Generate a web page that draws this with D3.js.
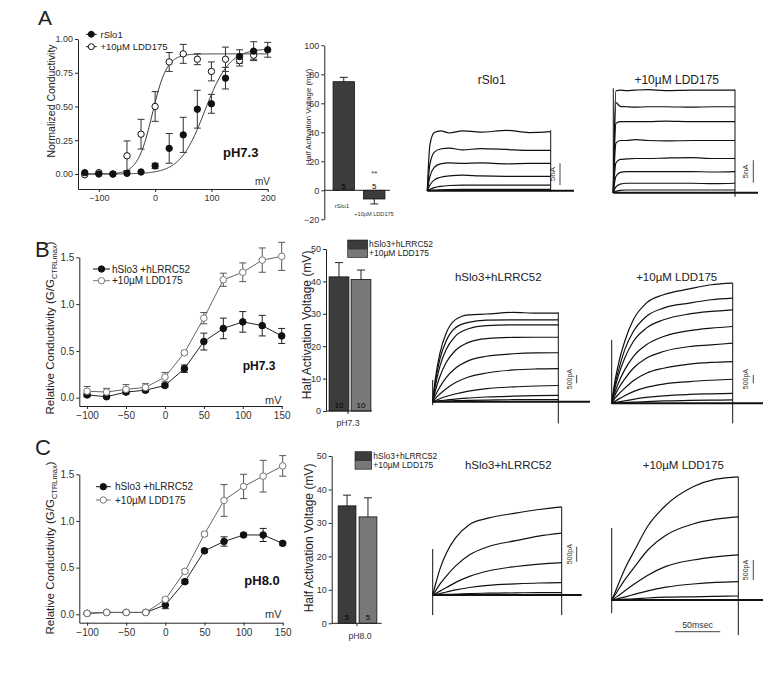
<!DOCTYPE html>
<meta charset="utf-8">
<style>
body { margin: 0; background: #fff; }
svg { font-family: "Liberation Sans", Arial, sans-serif; }
</style>
<svg width="773" height="678"></svg>
<script src="https://d3js.org/d3.v7.min.js"></script>
<script>
var FONT = "'Liberation Sans', Arial, sans-serif";

// ---------- panel A : G-V of rSlo1 ----------
var voltA = [-125, -100, -75, -50, -25, 0, 25, 50, 75, 100, 125, 150, 175, 200];
var gSlo1 = [0.01, 0.0, 0.0, 0.005, 0.015, 0.06, 0.19, 0.29, 0.48, 0.52, 0.71, 0.87, 0.91, 0.92];
var gSlo1Err = [0, 0, 0, 0, 0, 0.02, 0.11, 0.13, 0.14, 0.07, 0.08, 0.05, 0.07, 0.055];
var voltALdd = [-125, -100, -75, -50, -25, 0, 25, 50, 75, 100, 125, 150, 175];
var gSlo1Ldd = [-0.005, 0.01, 0.0, 0.135, 0.295, 0.50, 0.83, 0.89, 0.85, 0.76, 0.85, 0.84, 0.88];
var gSlo1LddErr = [0, 0, 0, 0.11, 0.11, 0.11, 0.07, 0.07, 0.04, 0.07, 0.09, 0.04, 0.03];
// Boltzmann fits: [V1/2, slope, Gmax]
var fitSlo1 = [88, 22, 0.93];
var fitSlo1Ldd = [-5, 13, 0.89];

// ---------- panels B and C : hSlo3 + hLRRC52 ----------
var voltBC = [-100, -75, -50, -25, 0, 25, 50, 75, 100, 125, 150];
var gB = [0.03, 0.01, 0.06, 0.08, 0.13, 0.31, 0.60, 0.74, 0.81, 0.77, 0.66];
var gBErr = [0.02, 0.01, 0.02, 0.02, 0.02, 0.04, 0.09, 0.11, 0.11, 0.11, 0.08];
var gBLdd = [0.07, 0.06, 0.09, 0.11, 0.22, 0.48, 0.85, 1.26, 1.34, 1.47, 1.51];
var gBLddErr = [0.05, 0.04, 0.05, 0.04, 0.05, 0.02, 0.06, 0.07, 0.10, 0.13, 0.15];
var gC = [0.01, 0.02, 0.02, 0.02, 0.10, 0.35, 0.68, 0.78, 0.85, 0.85, 0.76];
var gCErr = [0.01, 0.01, 0.01, 0.01, 0.04, 0.02, 0.02, 0.05, 0.02, 0.07, 0.02];
var gCLdd = [0.01, 0.02, 0.02, 0.02, 0.16, 0.46, 0.86, 1.22, 1.37, 1.48, 1.59];
var gCLddErr = [0.01, 0.01, 0.01, 0.01, 0.02, 0.02, 0.02, 0.17, 0.13, 0.17, 0.11];

// ---------- half activation bars ----------
var barLabelsA = ["rSlo1", "+10\u00b5M LDD175"];
var halfA = [74.9, -6.0], halfAErr = [3.0, 3.4], nA = ["5", "5"];
var barLabelsBC = ["hSlo3+hLRRC52", "+10\u00b5M LDD175"];
var halfB = [41.4, 40.6], halfBErr = [4.4, 2.9], nB = ["10", "10"];
var halfC = [35.1, 31.8], halfCErr = [3.2, 5.7], nC = ["5", "5"];

// ---------- current traces (nA) sampled at traceTimes (ms) ----------
var traceTimes = [0, 3, 8, 15, 25, 40, 60, 90, 115, 140];
var tracesA = [
  [0, 10.6, 13.4, 13.8, 13.3, 13.8, 13.5, 13.9, 13.4, 13.6],
  [0, 6.1, 8.9, 9.6, 9.8, 9.4, 9.7, 9.5, 9.3, 9.3],
  [0, 3.3, 5.4, 6.2, 6.4, 6.3, 6.4, 6.2, 6.3, 6.3],
  [0, 1.3, 2.5, 3.1, 3.4, 3.6, 3.4, 3.3, 3.3, 3.3],
  [0, 0.3, 0.7, 1.0, 1.2, 1.3, 1.3, 1.3, 1.3, 1.3],
  [0, 0.05, 0.15, 0.22, 0.27, 0.3, 0.3, 0.3, 0.3, 0.3]
];
var tracesALdd = [
  [0, 22.6, 22.8, 22.7, 22.8, 22.9, 22.7, 22.8, 22.8, 22.8],
  [0, 20.0, 19.2, 19.1, 19.0, 19.1, 19.1, 19.0, 19.1, 19.1],
  [0, 15.4, 15.8, 15.8, 15.8, 15.8, 15.9, 15.8, 15.8, 15.8],
  [0, 11.0, 11.6, 11.6, 11.8, 11.6, 11.5, 11.6, 11.6, 11.6],
  [0, 6.6, 7.4, 7.5, 7.6, 7.6, 7.7, 7.8, 7.6, 7.6],
  [0, 3.6, 4.5, 4.7, 4.7, 4.7, 4.7, 4.7, 4.6, 4.7],
  [0, 1.3, 1.9, 2.1, 2.1, 2.1, 2.1, 2.1, 2.0, 2.1],
  [0, 0.3, 0.5, 0.6, 0.6, 0.6, 0.6, 0.6, 0.6, 0.6]
];
var tracesB = [
  [0, 1.4, 2.9, 4.1, 4.9, 5.2, 5.25, 5.35, 5.3, 5.3],
  [0, 1.18, 2.55, 3.63, 4.41, 4.75, 4.88, 4.9, 4.9, 4.9],
  [0, 0.97, 2.12, 3.13, 3.91, 4.37, 4.55, 4.6, 4.6, 4.6],
  [0, 0.66, 1.51, 2.35, 3.05, 3.55, 3.78, 3.85, 3.86, 3.86],
  [0, 0.38, 0.88, 1.44, 1.99, 2.46, 2.72, 2.87, 2.92, 2.93],
  [0, 0.2, 0.46, 0.78, 1.14, 1.48, 1.72, 1.9, 1.96, 1.98],
  [0, 0.07, 0.18, 0.31, 0.46, 0.63, 0.78, 0.89, 0.94, 0.97],
  [0, 0.02, 0.06, 0.1, 0.16, 0.22, 0.28, 0.33, 0.36, 0.38],
  [0, 0.01, 0.02, 0.04, 0.06, 0.08, 0.1, 0.12, 0.13, 0.13]
];
var tracesBLdd = [
  [0, 1.1, 2.4, 3.7, 5.0, 6.0, 6.5, 6.85, 7.1, 7.2],
  [0, 0.9, 2.0, 3.2, 4.3, 5.2, 5.7, 6.0, 6.2, 6.3],
  [0, 0.75, 1.7, 2.7, 3.7, 4.5, 5.0, 5.35, 5.5, 5.6],
  [0, 0.55, 1.25, 2.0, 2.8, 3.5, 4.0, 4.35, 4.5, 4.6],
  [0, 0.4, 0.9, 1.45, 2.1, 2.7, 3.1, 3.4, 3.5, 3.6],
  [0, 0.25, 0.55, 0.9, 1.35, 1.8, 2.1, 2.35, 2.45, 2.5],
  [0, 0.1, 0.25, 0.45, 0.7, 0.95, 1.15, 1.3, 1.38, 1.44],
  [0, 0.03, 0.08, 0.15, 0.24, 0.35, 0.45, 0.53, 0.57, 0.6],
  [0, 0.01, 0.02, 0.04, 0.07, 0.1, 0.14, 0.17, 0.19, 0.2]
];
var tracesC = [
  [0, 0.35, 0.88, 1.41, 1.91, 2.35, 2.56, 2.73, 2.85, 2.94],
  [0, 0.14, 0.37, 0.64, 0.97, 1.34, 1.61, 1.81, 1.96, 2.06],
  [0, 0.05, 0.13, 0.25, 0.42, 0.62, 0.8, 0.95, 1.03, 1.08],
  [0, 0.02, 0.05, 0.1, 0.17, 0.25, 0.32, 0.37, 0.4, 0.41],
  [0, 0.005, 0.01, 0.02, 0.03, 0.05, 0.06, 0.07, 0.08, 0.08]
];
var tracesCLdd = [
  [0, 0.15, 0.43, 0.8, 1.23, 1.85, 2.37, 2.83, 3.02, 3.08],
  [0, 0.1, 0.28, 0.52, 0.82, 1.25, 1.62, 1.9, 2.02, 2.08],
  [0, 0.04, 0.12, 0.24, 0.4, 0.62, 0.84, 1.0, 1.08, 1.13],
  [0, 0.01, 0.04, 0.08, 0.14, 0.23, 0.32, 0.4, 0.44, 0.46],
  [0, 0, 0.01, 0.02, 0.03, 0.05, 0.07, 0.08, 0.09, 0.1]
];
// capacitive spikes [start low, start high, end low] in nA
var spikeA = [0, 0, -0.3], spikeALdd = [-0.1, 23.2, -0.9];
var spikeB = [-0.2, 1.3, -1.3], spikeBLdd = [0, 3.8, -1.2];
var spikeC = [-0.67, 1.53, -0.67], spikeCLdd = [-0.33, 1.8, -0.88];

var svg = d3.select("svg");

function txt(x, y, s, size, opts) {
  opts = opts || {};
  return svg.append("text").attr("x", x).attr("y", y)
    .attr("font-size", size).attr("font-family", FONT)
    .attr("font-weight", opts.bold ? "bold" : null)
    .attr("text-anchor", opts.anchor || "start")
    .attr("fill", opts.fill || "#222").text(s);
}

function vtxt(cx, cy, s, size) {
  return svg.append("text").attr("transform", "translate(" + cx + "," + cy + ") rotate(-90)")
    .attr("text-anchor", "middle").attr("dy", "0.35em")
    .attr("font-size", size).attr("font-family", FONT).attr("fill", "#222").text(s);
}

function styleAxis(a, fs) {
  a.attr("font-size", fs).attr("font-family", FONT).attr("color", "#222");
  a.selectAll(".tick text").attr("fill", "#333");
}

function axisLeft(y, x0, ticks, fmt, fs) {
  var a = svg.append("g").attr("transform", "translate(" + x0 + ",0)")
    .call(d3.axisLeft(y).tickValues(ticks).tickFormat(fmt).tickSize(3).tickSizeOuter(0).tickPadding(2));
  styleAxis(a, fs);
  return a;
}

function axisBottom(x, y0, ticks, fs) {
  var a = svg.append("g").attr("transform", "translate(0," + y0 + ")")
    .call(d3.axisBottom(x).tickValues(ticks).tickFormat(d3.format("d")).tickSize(3).tickSizeOuter(0).tickPadding(3));
  styleAxis(a, fs);
  return a;
}

function errBars(x, y, volts, vals, errs, color, cap) {
  volts.forEach(function(v, i) {
    if (!errs[i]) return;
    var g = svg.append("g").attr("stroke", color).attr("stroke-width", 1);
    g.append("line").attr("x1", x(v)).attr("x2", x(v)).attr("y1", y(vals[i] - errs[i])).attr("y2", y(vals[i] + errs[i]));
    [vals[i] - errs[i], vals[i] + errs[i]].forEach(function(e) {
      g.append("line").attr("x1", x(v) - cap).attr("x2", x(v) + cap).attr("y1", y(e)).attr("y2", y(e));
    });
  });
}

function markers(x, y, volts, vals, r, fill, stroke) {
  svg.append("g").selectAll("circle").data(volts).join("circle")
    .attr("cx", function(d) { return x(d); })
    .attr("cy", function(d, i) { return y(vals[i]); })
    .attr("r", r).attr("fill", fill).attr("stroke", stroke).attr("stroke-width", 1);
}

function connect(x, y, volts, vals, color) {
  svg.append("path").datum(volts.map(function(v, i) { return [v, vals[i]]; }))
    .attr("d", d3.line().x(function(d) { return x(d[0]); }).y(function(d) { return y(d[1]); }))
    .attr("fill", "none").attr("stroke", color).attr("stroke-width", 1);
}

function legendRow(x1, x2, cx, cy, fill, stroke, r, label, tx, fs) {
  svg.append("line").attr("x1", x1).attr("x2", x2).attr("y1", cy).attr("y2", cy)
    .attr("stroke", stroke).attr("stroke-width", 1);
  svg.append("circle").attr("cx", cx).attr("cy", cy).attr("r", r)
    .attr("fill", fill).attr("stroke", stroke);
  txt(tx, cy, label, fs).attr("dy", "0.35em");
}

// ================= Panel A : G-V =================
txt(38, 25, "A", 21);
var xA = d3.scaleLinear().domain([-137, 200]).range([78, 267.7]);
var yA = d3.scaleLinear().domain([-0.111, 1]).range([189, 39]);
axisLeft(yA, 78, [0, 0.25, 0.5, 0.75, 1], d3.format(".2f"), 9);
axisBottom(xA, 189, [-100, 0, 100, 200], 9);
vtxt(51, 101, "Normalized Conductivity", 10.5);

[fitSlo1, fitSlo1Ldd].forEach(function(p) {
  var pts = d3.range(-130, 200.5, 1).map(function(v) {
    return [v, p[2] / (1 + Math.exp((p[0] - v) / p[1]))];
  });
  svg.append("path").datum(pts)
    .attr("d", d3.line().x(function(d) { return xA(d[0]); }).y(function(d) { return yA(d[1]); }))
    .attr("fill", "none").attr("stroke", "#333").attr("stroke-width", 1);
});
errBars(xA, yA, voltA, gSlo1, gSlo1Err, "#333", 3.5);
errBars(xA, yA, voltALdd, gSlo1Ldd, gSlo1LddErr, "#333", 3.5);
markers(xA, yA, voltALdd, gSlo1Ldd, 3.2, "#fff", "#111");
markers(xA, yA, voltA, gSlo1, 3.2, "#111", "#111");
legendRow(86, 96.7, 91.3, 34.3, "#111", "#111", 3, "rSlo1", 100.5, 9.5);
legendRow(86, 96.7, 91.3, 46.7, "#fff", "#111", 3, "+10\u00b5M LDD175", 100.5, 9.5);
txt(223, 156.5, "pH7.3", 13, {bold: true, fill: "#111"});
txt(255, 185, "mV", 10, {fill: "#333"});

// ================= Panels B and C : G-V =================
function gvPanel(o) {
  txt(o.letterX, o.letterY, o.letter, 22);
  var x = d3.scaleLinear().domain([-110, 150]).range([79.3, o.xEnd]);
  var y = d3.scaleLinear().domain([o.yMin, 1.5]).range([o.axisY, o.top]);
  axisLeft(y, 79.3, [0, 0.5, 1, 1.5], d3.format(".1f"), 10);
  axisBottom(x, o.axisY, [-100, -50, 0, 50, 100, 150], 10);
  var lab = svg.append("text").attr("transform", "translate(50," + o.labelY + ") rotate(-90)")
    .attr("text-anchor", "middle").attr("dy", "0.35em")
    .attr("font-size", 11.5).attr("font-family", FONT).attr("fill", "#222");
  lab.append("tspan").text("Relative Conductivity (G/G");
  lab.append("tspan").attr("font-size", 7.5).attr("dy", 3).text("CTRLmax");
  lab.append("tspan").attr("dy", -3).text(")");

  connect(x, y, voltBC, o.ctrl, "#222");
  connect(x, y, voltBC, o.ldd, "#666");
  errBars(x, y, voltBC, o.ctrl, o.ctrlErr, "#222", 3.5);
  errBars(x, y, voltBC, o.ldd, o.lddErr, "#555", 3.5);
  markers(x, y, voltBC, o.ctrl, 3.3, "#111", "#111");
  markers(x, y, voltBC, o.ldd, 3.3, "#fff", "#777");

  legendRow(o.legX1, o.legX2, o.legCx, o.legY1, "#111", "#111", 3.2, "hSlo3 +hLRRC52", o.legTx, 10);
  legendRow(o.legX1, o.legX2, o.legCx, o.legY2, "#fff", "#777", 3.2, "+10\u00b5M LDD175", o.legTx, 10);
  txt(o.phX, o.phY, o.ph, o.phSize, {bold: true, fill: "#111"});
  txt(265, o.mvY, "mV", 11, {fill: "#333"});
}

gvPanel({letter: "B", letterX: 35, letterY: 257, xEnd: 281.7, yMin: -0.0887, axisY: 406, top: 257.3,
  labelY: 328, ctrl: gB, ctrlErr: gBErr, ldd: gBLdd, lddErr: gBLddErr,
  legX1: 93, legX2: 110, legCx: 101.5, legY1: 269, legY2: 280.7, legTx: 112,
  ph: "pH7.3", phX: 242.7, phY: 370, phSize: 12, mvY: 404});
gvPanel({letter: "C", letterX: 35, letterY: 455, xEnd: 282.7, yMin: -0.09, axisY: 622.7, top: 474.3,
  labelY: 548, ctrl: gC, ctrlErr: gCErr, ldd: gCLdd, lddErr: gCLddErr,
  legX1: 96, legX2: 110.7, legCx: 103.3, legY1: 486.7, legY2: 500, legTx: 115,
  ph: "pH8.0", phX: 244.3, phY: 585, phSize: 13, mvY: 618});

// ================= Half activation bar charts =================
function barPanel(o) {
  var y = d3.scaleLinear().domain(o.domain).range(o.range);
  var x = d3.scaleBand().domain(o.keys).range(o.band).paddingInner(o.padIn).paddingOuter(o.padOut);
  axisLeft(y, o.axisX, o.ticks, d3.format("d"), 9);
  vtxt(o.labelX, o.labelCy, "Half Activation Voltage (mV)", o.labelSize);

  var g = svg.append("g");
  o.keys.forEach(function(k, i) {
    var v = o.vals[i], e = o.errs[i];
    var cx = x(k) + x.bandwidth() / 2;
    var tip = v >= 0 ? v + e : v - e;
    g.append("line").attr("x1", cx).attr("x2", cx).attr("y1", y(v)).attr("y2", y(tip))
      .attr("stroke", "#222").attr("stroke-width", 1);
    g.append("line").attr("x1", cx - 4).attr("x2", cx + 4).attr("y1", y(tip)).attr("y2", y(tip))
      .attr("stroke", "#222").attr("stroke-width", 1);
    g.append("rect").attr("x", x(k)).attr("width", x.bandwidth())
      .attr("y", y(Math.max(0, v))).attr("height", Math.abs(y(v) - y(0)))
      .attr("fill", o.colors[i]).attr("stroke", "#111").attr("stroke-width", 0.8);
    txt(cx, o.nY, o.n[i], 8, {anchor: "middle", fill: "#000"});
  });
  svg.append("line").attr("x1", o.axisX).attr("x2", o.xEnd).attr("y1", y(0)).attr("y2", y(0))
    .attr("stroke", "#222").attr("stroke-width", 1);
  return {x: x, y: y};
}

var bA = barPanel({domain: [-20, 100], range: [219.3, 45.3], keys: barLabelsA, band: [330, 388],
  padIn: 0.3, padOut: 0.1, axisX: 324.3, xEnd: 390, ticks: [-20, 0, 20, 40, 60, 80, 100],
  labelX: 308, labelCy: 117, labelSize: 7.8, vals: halfA, errs: halfAErr, n: nA,
  colors: ["#3c3c3c", "#3c3c3c"], nY: 188.5});
txt(342, 208, barLabelsA[0], 6.2, {anchor: "middle", fill: "#333"});
txt(374, 215.5, barLabelsA[1], 5.6, {anchor: "middle", fill: "#333"});
txt(bA.x(barLabelsA[1]) + bA.x.bandwidth() / 2, 176, "**", 8, {anchor: "middle", fill: "#333"});

function barLegend(x, y1, y2, w, h, tx, fs) {
  [["#3c3c3c", y1, barLabelsBC[0]], ["#787878", y2, barLabelsBC[1]]].forEach(function(r) {
    svg.append("rect").attr("x", x).attr("y", r[1]).attr("width", w).attr("height", h)
      .attr("fill", r[0]).attr("stroke", "#111").attr("stroke-width", 0.6);
    txt(tx, r[1] + h / 2, r[2], fs).attr("dy", "0.35em");
  });
}

var bB = barPanel({domain: [0, 50], range: [411, 249], keys: barLabelsBC, band: [328, 372],
  padIn: 0.1, padOut: 0.05, axisX: 326, xEnd: 372, ticks: [0, 10, 20, 30, 40, 50],
  labelX: 306.7, labelCy: 325, labelSize: 12, vals: halfB, errs: halfBErr, n: nB,
  colors: ["#3c3c3c", "#787878"], nY: 407.5});
svg.append("line").attr("x1", 348).attr("x2", 348).attr("y1", 411).attr("y2", 414).attr("stroke", "#222");
txt(348, 426, "pH7.3", 8.7, {anchor: "middle", fill: "#333"});
barLegend(347.7, 240, 249, 20, 8.5, 369, 8.5);

var bC = barPanel({domain: [0, 50], range: [623.3, 456], keys: barLabelsBC, band: [335, 380],
  padIn: 0.15, padOut: 0.15, axisX: 331.7, xEnd: 381.7, ticks: [0, 10, 20, 30, 40, 50],
  labelX: 309, labelCy: 538, labelSize: 12, vals: halfC, errs: halfCErr, n: nC,
  colors: ["#3c3c3c", "#787878"], nY: 620});
svg.append("line").attr("x1", 357).attr("x2", 357).attr("y1", 623.3).attr("y2", 626.3).attr("stroke", "#222");
txt(360, 639, "pH8.0", 8.7, {anchor: "middle", fill: "#333"});
barLegend(355, 451.7, 460.7, 16.7, 8.5, 373.3, 8.5);

// ================= Current traces =================
function tracePanel(o, traces, spike) {
  var x = d3.scaleLinear().domain([0, 140]).range([o.x0, o.x1]);
  var y = d3.scaleLinear().domain([0, 1]).range([o.base, o.base - o.px]);
  var g = svg.append("g").attr("fill", "none").attr("stroke", "#111");
  var line = d3.line().x(function(d, i) { return x(traceTimes[i]); }).y(function(d) { return y(d); })
    .curve(d3.curveMonotoneX);
  g.selectAll("path").data(traces).join("path").attr("d", line).attr("stroke-width", 1.2);
  var top = d3.max(traces, function(t) { return d3.max(t); });
  g.append("line").attr("x1", o.x0).attr("x2", o.tail).attr("y1", y(0)).attr("y2", y(0)).attr("stroke-width", 2);
  g.append("line").attr("x1", o.x0).attr("x2", o.x0).attr("y1", y(spike[0])).attr("y2", y(spike[1])).attr("stroke-width", 1);
  g.append("line").attr("x1", o.x1).attr("x2", o.x1).attr("y1", y(top)).attr("y2", y(spike[2])).attr("stroke-width", 1);
  // amplitude scale bar
  svg.append("line").attr("x1", o.barX).attr("x2", o.barX).attr("y1", o.barY).attr("y2", y(o.amp) - o.base + o.barY)
    .attr("stroke", "#444").attr("stroke-width", 1);
  svg.append("text").attr("transform", "translate(" + (o.barX - 5) + "," + (o.barY - o.amp * o.px / 2) + ") rotate(-90)")
    .attr("text-anchor", "middle").attr("font-size", o.barFs).attr("font-family", FONT).attr("fill", "#333")
    .text(o.barLabel);
  txt(o.tx, o.ty, o.title, o.tfs, {anchor: "middle"});
  return x;
}

tracePanel({x0: 427.3, x1: 550.7, base: 190.7, px: 4.34, tail: 574, amp: 5, barX: 560, barY: 185,
  barLabel: "5nA", barFs: 8, title: "rSlo1", tx: 491.7, ty: 84, tfs: 12}, tracesA, spikeA);
tracePanel({x0: 613.3, x1: 735, base: 192.7, px: 4.5, tail: 758, amp: 5, barX: 753.3, barY: 182.7,
  barLabel: "5nA", barFs: 8, title: "+10\u00b5M LDD175", tx: 676.7, ty: 84, tfs: 12}, tracesALdd, spikeALdd);
tracePanel({x0: 432.7, x1: 558.3, base: 401.7, px: 16.7, tail: 590, amp: 0.5, barX: 576.7, barY: 383.3,
  barLabel: "500pA", barFs: 7, title: "hSlo3+hLRRC52", tx: 498.3, ty: 280.5, tfs: 11.5}, tracesB, spikeB);
tracePanel({x0: 611.7, x1: 732.7, base: 403.3, px: 16.7, tail: 763, amp: 0.5, barX: 753.3, barY: 383.3,
  barLabel: "500pA", barFs: 7, title: "+10\u00b5M LDD175", tx: 676.7, ty: 280.5, tfs: 11.5}, tracesBLdd, spikeBLdd);
tracePanel({x0: 432.7, x1: 561.7, base: 595, px: 30, tail: 581.7, amp: 0.5, barX: 576.7, barY: 561.7,
  barLabel: "500pA", barFs: 7, title: "hSlo3+hLRRC52", tx: 508.3, ty: 469, tfs: 11.5}, tracesC, spikeC);
var xCL = tracePanel({x0: 611.7, x1: 738.3, base: 600, px: 40, tail: 763, amp: 0.5, barX: 753.3, barY: 580,
  barLabel: "500pA", barFs: 7, title: "+10\u00b5M LDD175", tx: 683.3, ty: 469, tfs: 11.5}, tracesCLdd, spikeCLdd);

// 50 ms time bar
var timeBar = 50;
var tb0 = 675;
svg.append("line").attr("x1", tb0).attr("x2", tb0 + xCL(timeBar) - xCL(0)).attr("y1", 631.7).attr("y2", 631.7)
  .attr("stroke", "#444").attr("stroke-width", 1);
txt(tb0 + (xCL(timeBar) - xCL(0)) / 2, 628, timeBar + "msec", 8.8, {anchor: "middle", fill: "#333"});
</script>
